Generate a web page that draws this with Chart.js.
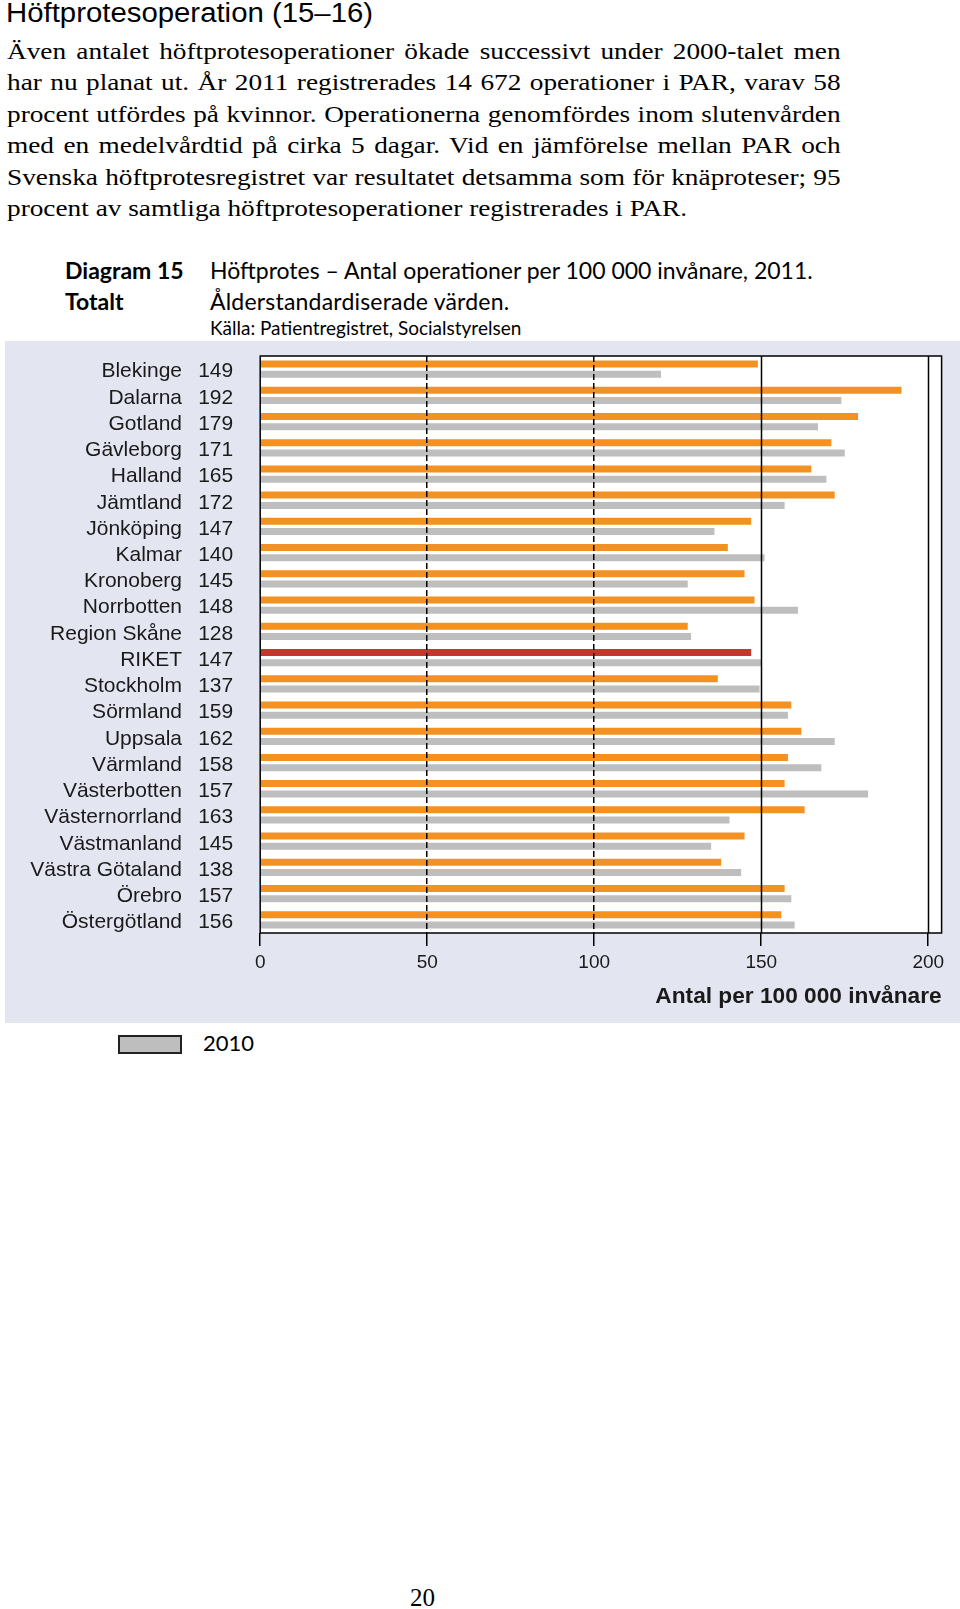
<!DOCTYPE html>
<html lang="sv">
<head>
<meta charset="utf-8">
<title>Höftprotes – Antal operationer per 100 000 invånare, 2011</title>
<script src="https://cdn.jsdelivr.net/npm/chart.js@4.4.1/dist/chart.umd.min.js"></script>
<style>
  html, body { margin: 0; padding: 0; background: #fff; }
  body { width: 960px; height: 1609px; position: relative; overflow: hidden; color: #000; }
  h1 { position: absolute; left: 6px; top: -2px; margin: 0; font: 400 27px 'Liberation Sans', Arial, sans-serif;
       transform: scaleX(1.087); transform-origin: 0 0; white-space: nowrap; }
  .brodtext { position: absolute; left: 7px; top: 36px; width: 718px; font: 23.5px/31.4px 'Liberation Serif', 'Times New Roman', serif;
              transform: scaleX(1.161); transform-origin: 0 0; }
  .brodtext div { text-align: justify; text-align-last: justify; }
  .brodtext div.sista { text-align-last: left; }
  .cap { position: absolute; font-family: Lato, 'Open Sans', sans-serif; font-size: 23px; line-height: 27px; white-space: nowrap; }
  .cap b { font-weight: 700; }
  #panel { position: absolute; left: 5px; top: 341px; width: 955px; height: 682px; background: #e3e6f1; overflow: hidden; }
  .legend { position: absolute; left: 118px; top: 1035px; font: 22px Lato, sans-serif; }
  .legend .ruta { position: absolute; left: 0; top: 0; width: 60px; height: 15px; background: #bebebe; border: 2px solid #222; }
  .legend .txt { position: absolute; left: 85px; top: -6px; white-space: nowrap; }
  .sida { position: absolute; left: 410px; top: 1584px; font: 25px 'Liberation Serif', serif; }
</style>
</head>
<body>
<h1>Höftprotesoperation (15–16)</h1>
<div class="brodtext">
  <div>Även antalet höftprotesoperationer ökade successivt under 2000-talet men</div>
  <div>har nu planat ut. År 2011 registrerades 14 672 operationer i PAR, varav 58</div>
  <div>procent utfördes på kvinnor. Operationerna genomfördes inom slutenvården</div>
  <div>med en medelvårdtid på cirka 5 dagar. Vid en jämförelse mellan PAR och</div>
  <div>Svenska höftprotesregistret var resultatet detsamma som för knäproteser; 95</div>
  <div class="sista">procent av samtliga höftprotesoperationer registrerades i PAR.</div>
</div>

<div class="cap" style="left:65px; top:257px;"><b>Diagram 15</b></div>
<div class="cap" style="left:65px; top:288px;"><b>Totalt</b></div>
<div class="cap" style="left:210px; top:257px;">Höftprotes – Antal operationer per 100 000 invånare, 2011.</div>
<div class="cap" style="left:210px; top:288px; letter-spacing:0.2px;">Ålderstandardiserade värden.</div>
<div class="cap" style="left:210px; top:317px; font-size:19px; line-height:22px;">Källa: Patientregistret, Socialstyrelsen</div>

<div id="panel"><canvas id="diagram"></canvas></div>

<div class="legend"><span class="ruta"></span><span class="txt">2010</span></div>
<div class="sida">20</div>

<script>
// Data
const regioner = ['Blekinge', 'Dalarna', 'Gotland', 'Gävleborg', 'Halland', 'Jämtland', 'Jönköping',
  'Kalmar', 'Kronoberg', 'Norrbotten', 'Region Skåne', 'RIKET', 'Stockholm', 'Sörmland', 'Uppsala',
  'Värmland', 'Västerbotten', 'Västernorrland', 'Västmanland', 'Västra Götaland', 'Örebro', 'Östergötland'];
const varden2011 = [149, 192, 179, 171, 165, 172, 147, 140, 145, 148, 128, 147, 137, 159, 162, 158, 157, 163, 145, 138, 157, 156];
const varden2010 = [120, 174, 167, 175, 169.5, 157, 136, 151, 128, 161, 129, 150, 149.5, 158, 172, 168, 182, 140.5, 135, 144, 159, 160];
const xTicks = [0, 50, 100, 150, 200];
const streckade = [50, 100];   // streckade stödlinjer
const heldragna = [150, 200];  // heldragna stödlinjer

const ORANGE = '#f39222';
const ROD = '#c0392b';
const GRA = '#bebebe';
const TEXT = '#1a1a1a';
const FONT = "'Liberation Sans', Arial, sans-serif";

// vit plotyta, heldragna stödlinjer och svart ram
const ram = {
  id: 'ram',
  beforeDraw(chart) {
    const { ctx, chartArea: { left, top, width, height } } = chart;
    ctx.save();
    ctx.fillStyle = '#fff';
    ctx.fillRect(left, top, width, height);
    ctx.restore();
  },
  afterDraw(chart) {
    const { ctx, chartArea: { left, top, bottom, width, height } } = chart;
    const x = chart.scales.x;
    ctx.save();
    ctx.strokeStyle = '#000';
    ctx.lineWidth = 1.5;
    heldragna.forEach(v => {
      const px = Math.round(x.getPixelForValue(v)) + 0.5;
      ctx.beginPath();
      ctx.moveTo(px, top);
      ctx.lineTo(px, bottom);
      ctx.stroke();
    });
    ctx.strokeRect(left, top, width, height);
    ctx.restore();
  }
};

// fast bredd och ingen extra luft ovanför/under kategoriaxlarna
const fastBredd = w => s => { s.width = w; s.paddingTop = 0; s.paddingBottom = 0; };

new Chart(document.getElementById('diagram'), {
  type: 'bar',
  data: {
    labels: regioner,
    datasets: [{
      label: '2011',
      data: varden2011,
      backgroundColor: regioner.map(r => r === 'RIKET' ? ROD : ORANGE),
      categoryPercentage: 0.785,
      barPercentage: 0.68
    }, {
      label: '2010',
      data: varden2010,
      backgroundColor: GRA,
      categoryPercentage: 0.785,
      barPercentage: 0.68
    }]
  },
  options: {
    indexAxis: 'y',
    responsive: true,
    maintainAspectRatio: false,
    animation: false,
    layout: { padding: { left: 0, right: 18.4, top: 15, bottom: 9 } },
    plugins: {
      legend: { display: false },
      tooltip: { enabled: true }
    },
    scales: {
      x: {
        type: 'linear',
        position: 'bottom',
        min: 0,
        max: 204,
        bounds: 'data',
        afterBuildTicks: s => { s.ticks = xTicks.map(v => ({ value: v })); },
        afterFit: s => { s.height = 81; s.paddingLeft = 0; s.paddingRight = 0; },
        grid: {
          z: 1,
          color: c => streckade.includes(c.tick && c.tick.value) ? '#000' : 'rgba(0,0,0,0)',
          lineWidth: 1.5,
          drawTicks: true,
          tickLength: 13,
          tickColor: '#000',
          tickWidth: 1.5
        },
        border: { display: false, dash: [6, 3] },
        ticks: { padding: 5, color: TEXT, font: { family: FONT, size: 19 } },
        title: {
          display: true,
          text: 'Antal per 100 000 invånare',
          align: 'end',
          color: TEXT,
          font: { family: FONT, size: 22.7, weight: 'bold' },
          padding: { top: 0, bottom: 4 }
        }
      },
      y: {
        type: 'category',
        position: 'left',
        weight: 2,
        offset: true,
        afterFit: fastBredd(193),
        grid: { display: false, drawTicks: false },
        border: { display: false },
        ticks: { autoSkip: false, padding: 16, labelOffset: 2.5, color: TEXT, font: { family: FONT, size: 21 } }
      },
      yv: {
        type: 'category',
        position: 'left',
        weight: 1,
        offset: true,
        labels: varden2011.map(String),
        afterFit: fastBredd(62.2),
        grid: { display: false, drawTicks: false },
        border: { display: false },
        ticks: { autoSkip: false, padding: 27, labelOffset: 2.5, color: TEXT, font: { family: FONT, size: 21 } }
      }
    }
  },
  plugins: [ram]
});
</script>
</body>
</html>
